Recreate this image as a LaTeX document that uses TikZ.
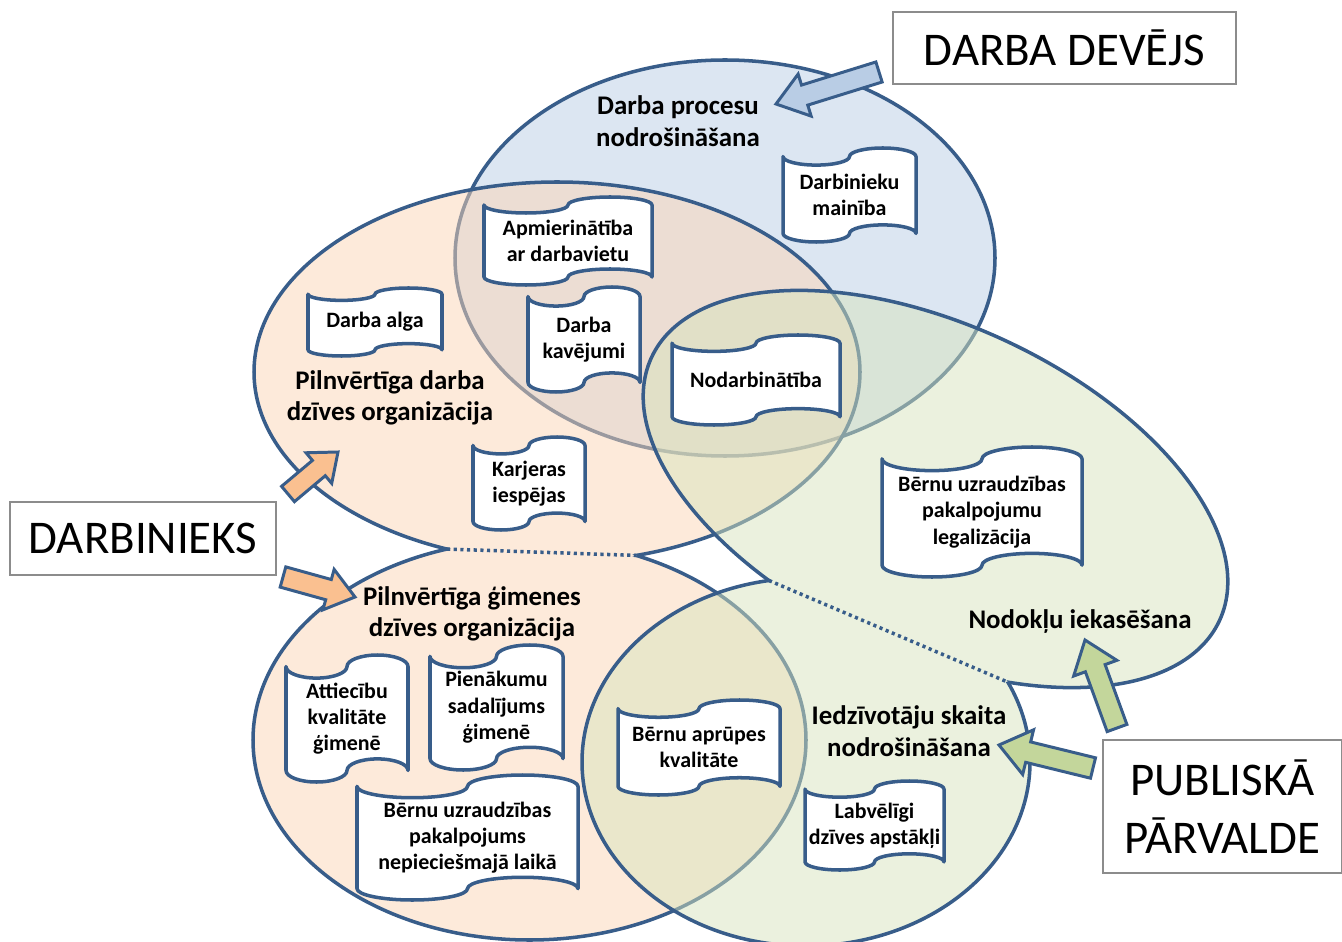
\documentclass[tikz,border=0pt]{standalone}
\usepackage{fontspec}
\setmainfont{Carlito}
\usetikzlibrary{calc,intersections}
\definecolor{outl}{HTML}{385D8A}
\definecolor{bluef}{HTML}{DCE6F2}
\definecolor{orangef}{HTML}{FCD5B5}
\definecolor{greenf}{HTML}{D7E4BD}
\definecolor{barrowf}{HTML}{B9CDE5}
\definecolor{oarrowf}{HTML}{FAC090}
\definecolor{garrowf}{HTML}{C3D69B}
\definecolor{boxline}{HTML}{8C8C8C}
\tikzset{
 shapeline/.style={draw=outl, line width=2pt},
 dotline/.style={draw=outl, line width=2pt, dash pattern=on 1.8pt off 2pt},
 docline/.style={draw=outl, line width=2pt, fill=white, line join=round},
 doctext/.style={font=\bfseries\fontsize{12.5}{15}\selectfont, align=center, inner sep=0pt},
 lbl/.style={font=\bfseries\fontsize{15.3}{18}\selectfont, align=center, inner sep=0pt, text=black},
 bigbox/.style={draw=boxline, line width=0.9pt, fill=white, font=\fontsize{26.7}{33}\selectfont, align=center, inner sep=0pt},
 arrowline/.style={draw=outl, line width=1.7pt, line join=miter},
}
\newcommand\doc[6]{%
 \coordinate (#1c) at (#2,-#3);
 \draw[docline] ($(#1c)+(-#4/2,#5/2-#5/11)$)
   arc[start angle=180,end angle=360,x radius=#4/4,y radius=#5/11]
   arc[start angle=180,end angle=0,x radius=#4/4,y radius=#5/11]
   -- ($(#1c)+(#4/2,-#5/2+#5/11)$)
   arc[start angle=0,end angle=180,x radius=#4/4,y radius=#5/11]
   arc[start angle=0,end angle=-180,x radius=#4/4,y radius=#5/11]
   -- cycle;
 \node[doctext] (#1) at (#1c) {#6};}
\newcommand\barrow[6]{%
 \coordinate (#2n) at ($(#3)!#6!(#2)$);
 \draw[arrowline, #1] ($(#2)!#4!90:(#3)$) -- ($(#2n)!#4!90:(#3)$) -- ($(#2n)!#5!90:(#3)$) -- (#3)
   -- ($(#2n)!#5!-90:(#3)$) -- ($(#2n)!#4!-90:(#3)$) -- ($(#2)!#4!-90:(#3)$) -- cycle;}
\begin{document}
\begin{tikzpicture}[x=0.02cm, y=0.02cm]
\useasboundingbox (0,0) rectangle (1342,-942);
% blue ellipse
\path[fill=bluef] (725,-258) ellipse [x radius=270, y radius=198];
\draw[shapeline] (725,-258) ellipse [x radius=270, y radius=198];
% orange union
\path[fill=orangef, fill opacity=0.5] (557,-372) ellipse [x radius=303, y radius=190] (529.5,-740) ellipse [x radius=276.5, y radius=200];
\begin{scope}[even odd rule]
 \clip (-20,20) rectangle (1362,-990) (529.5,-740) ellipse [x radius=276.5, y radius=200];
 \draw[shapeline] (557,-372) ellipse [x radius=303, y radius=190];
\end{scope}
\begin{scope}[even odd rule]
 \clip (-20,20) rectangle (1362,-990) (557,-372) ellipse [x radius=303, y radius=190];
 \draw[shapeline] (529.5,-740) ellipse [x radius=276.5, y radius=200];
\end{scope}
\path[name path=ou] (557,-372) ellipse [x radius=303, y radius=190];
\path[name path=ol] (529.5,-740) ellipse [x radius=276.5, y radius=200];
\path[name intersections={of=ou and ol, by={oa,ob}}];
\draw[dotline] (oa) -- (ob);
% green union
\path[fill=greenf, fill opacity=0.5] (935.5,-489) ellipse [x radius=313, y radius=164, rotate=-24.85] (806,-762) ellipse [x radius=224, y radius=184];
\begin{scope}[even odd rule]
 \clip (-20,20) rectangle (1362,-990) (806,-762) ellipse [x radius=224, y radius=184];
 \draw[shapeline] (935.5,-489) ellipse [x radius=313, y radius=164, rotate=-24.85];
\end{scope}
\begin{scope}[even odd rule]
 \clip (-20,20) rectangle (1362,-990) (935.5,-489) ellipse [x radius=313, y radius=164, rotate=-24.85];
 \draw[shapeline] (806,-762) ellipse [x radius=224, y radius=184];
\end{scope}
\path[name path=gt] (935.5,-489) ellipse [x radius=313, y radius=164, rotate=-24.85];
\path[name path=gl] (806,-762) ellipse [x radius=224, y radius=184];
\path[name intersections={of=gt and gl, by={ga,gb}}];
\draw[dotline] (ga) -- (gb);
% documents
\doc{d1}{849.5}{195}{133}{94}{Darbinieku\\mainība}
\doc{d2}{568}{241}{168}{88}{Apmierinātība\\ar darbavietu}
\doc{d3}{375}{322}{134}{68}{Darba alga}
\doc{d4}{584}{339.5}{112}{105}{Darba\\kavējumi}
\doc{d5}{756}{380}{168}{90}{Nodarbinātība}
\doc{d6}{529}{483.5}{112}{93}{Karjeras\\iespējas}
\doc{d7}{982}{512}{200}{130}{Bērnu uzraudzības\\pakalpojumu\\legalizācija}
\doc{d8}{347}{718.5}{122}{127}{Attiecību\\kvalitāte\\ģimenē}
\doc{d9}{496.5}{707.5}{133}{125}{Pienākumu\\sadalījums\\ģimenē}
\doc{d10}{467.5}{837.5}{221}{125}{Bērnu uzraudzības\\pakalpojums\\nepieciešmajā laikā}
\doc{d11}{699}{747.5}{162}{95}{Bērnu aprūpes\\kvalitāte}
\doc{d12}{874.5}{825.5}{139}{89}{Labvēlīgi\\dzīves apstākļi}
% labels
\node[lbl] (l1) at (678,-121) {Darba procesu\\nodrošināšana};
\node[lbl] (l2) at (390,-398) {Pilnvērtīga darba\\dzīves organizācija};
\node[lbl] (l3) at (472,-614) {Pilnvērtīga ģimenes\\dzīves organizācija};
\node[lbl] (l4) at (1080,-622) {Nodokļu iekasēšana};
\node[lbl] (l5) at (909,-731) {Iedzīvotāju skaita\\nodrošināšana};
% boxes
\node[bigbox, minimum width=6.86cm, minimum height=1.44cm] (dd) at (1064.5,-48) {DARBA DEVĒJS};
\node[bigbox, minimum width=5.32cm, minimum height=1.46cm] (dn) at (143,-538.5) {DARBINIEKS};
\node[bigbox, minimum width=4.78cm, minimum height=2.66cm] (pp) at (1222.5,-806.5) {PUBLISKĀ\\PĀRVALDE};
% arrows
\coordinate (ba) at (879,-72); \coordinate (bt) at (776,-104);
\coordinate (oa1) at (288,-494); \coordinate (ot1) at (338,-452);
\coordinate (oa2) at (283,-577); \coordinate (ot2) at (355,-597);
\coordinate (ga1) at (1117,-728); \coordinate (gt1) at (1085,-640);
\coordinate (ga2) at (1093,-768); \coordinate (gt2) at (999,-745);
\barrow{fill=barrowf}{ba}{bt}{0.21cm}{0.44cm}{0.6cm}
\barrow{fill=oarrowf}{oa1}{ot1}{0.2cm}{0.4cm}{0.5cm}
\barrow{fill=oarrowf}{oa2}{ot2}{0.21cm}{0.42cm}{0.55cm}
\barrow{fill=garrowf}{ga1}{gt1}{0.21cm}{0.46cm}{0.6cm}
\barrow{fill=garrowf}{ga2}{gt2}{0.21cm}{0.46cm}{0.6cm}
\end{tikzpicture}
\end{document}
